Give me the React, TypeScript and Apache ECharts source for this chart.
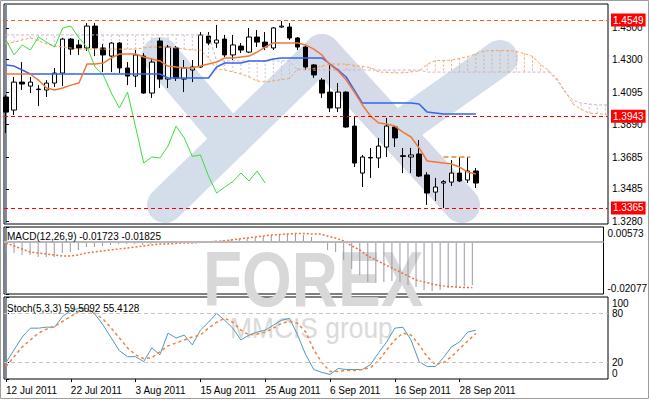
import React, { useEffect, useRef } from 'react';
import * as echarts from 'echarts';

// ---- data ----
const dateLabels = ['12 Jul 2011', '22 Jul 2011', '3 Aug 2011', '15 Aug 2011', '25 Aug 2011', '6 Sep 2011', '16 Sep 2011', '28 Sep 2011'];
const dateIndex = [0, 8, 16, 24, 32, 40, 48, 56];

const opens = [1.4064, 1.3982, 1.4158, 1.4133, 1.4114, 1.4108, 1.4152, 1.4215, 1.4429, 1.4392, 1.4373, 1.4511, 1.4373, 1.4322, 1.4404, 1.4247, 1.4196, 1.4322, 1.4089, 1.4417, 1.4177, 1.4373, 1.4177, 1.4234, 1.4253, 1.4448, 1.4404, 1.4429, 1.4329, 1.4385, 1.4347, 1.4442, 1.4410, 1.4373, 1.4505, 1.4505, 1.4436, 1.4379, 1.4266, 1.4171, 1.4095, 1.3995, 1.4095, 1.3881, 1.3585, 1.3683, 1.3680, 1.3749, 1.3875, 1.3694, 1.3686, 1.3705, 1.3573, 1.3465, 1.3522, 1.3528, 1.3585, 1.3541, 1.3598];
const highs = [1.4076, 1.4190, 1.4284, 1.4190, 1.4139, 1.4171, 1.4247, 1.4436, 1.4436, 1.4423, 1.4530, 1.4530, 1.4398, 1.4410, 1.4410, 1.4284, 1.4360, 1.4341, 1.4310, 1.4436, 1.4392, 1.4385, 1.4297, 1.4297, 1.4473, 1.4473, 1.4518, 1.4455, 1.4455, 1.4404, 1.4499, 1.4486, 1.4473, 1.4505, 1.4543, 1.4530, 1.4442, 1.4385, 1.4272, 1.4184, 1.4266, 1.4152, 1.4100, 1.3938, 1.3699, 1.3743, 1.3806, 1.3932, 1.3881, 1.3743, 1.3743, 1.3793, 1.3591, 1.3554, 1.3541, 1.3667, 1.3686, 1.3686, 1.3617];
const lows = [1.3837, 1.3951, 1.4108, 1.4089, 1.4007, 1.4064, 1.4127, 1.4133, 1.4329, 1.4329, 1.4354, 1.4322, 1.4221, 1.4221, 1.4215, 1.4139, 1.4127, 1.4085, 1.4058, 1.4121, 1.4121, 1.4165, 1.4095, 1.4158, 1.4247, 1.4392, 1.4373, 1.4316, 1.4297, 1.4341, 1.4341, 1.4379, 1.4360, 1.4360, 1.4499, 1.4423, 1.4360, 1.4234, 1.4184, 1.4058, 1.3969, 1.3969, 1.3869, 1.3623, 1.3497, 1.3554, 1.3617, 1.3686, 1.3749, 1.3585, 1.3585, 1.3560, 1.3384, 1.3409, 1.3365, 1.3503, 1.3528, 1.3522, 1.3491];
const closes = [1.3969, 1.4158, 1.4146, 1.4158, 1.4111, 1.4152, 1.4215, 1.4429, 1.4366, 1.4373, 1.4511, 1.4373, 1.4329, 1.4404, 1.4247, 1.4196, 1.4329, 1.4089, 1.4284, 1.4177, 1.4379, 1.4184, 1.4247, 1.4253, 1.4455, 1.4404, 1.4423, 1.4329, 1.4392, 1.4360, 1.4442, 1.4410, 1.4379, 1.4499, 1.4511, 1.4436, 1.4379, 1.4253, 1.4203, 1.4089, 1.3995, 1.4095, 1.3875, 1.3648, 1.3686, 1.3680, 1.3755, 1.3881, 1.3806, 1.3690, 1.3699, 1.3566, 1.3459, 1.3497, 1.3531, 1.3585, 1.3535, 1.3598, 1.3522];

const tenkan = [1.4209, 1.4209, 1.4209, 1.4209, 1.4171, 1.4121, 1.4108, 1.4121, 1.4139, 1.4152, 1.4272, 1.4272, 1.4278, 1.4310, 1.4335, 1.4335, 1.4335, 1.4316, 1.4303, 1.4291, 1.4259, 1.4253, 1.4247, 1.4247, 1.4259, 1.4272, 1.4284, 1.4310, 1.4310, 1.4316, 1.4322, 1.4347, 1.4379, 1.4404, 1.4404, 1.4404, 1.4404, 1.4392, 1.4366, 1.4329, 1.4266, 1.4228, 1.4171, 1.4095, 1.4014, 1.3944, 1.3900, 1.3894, 1.3881, 1.3843, 1.3812, 1.3743, 1.3661, 1.3655, 1.3648, 1.3642, 1.3623, 1.3591, 1.3579];
const kijun = [1.4266, 1.4259, 1.4234, 1.4209, 1.4209, 1.4209, 1.4209, 1.4209, 1.4209, 1.4209, 1.4209, 1.4209, 1.4209, 1.4209, 1.4209, 1.4209, 1.4209, 1.4209, 1.4209, 1.4209, 1.4184, 1.4184, 1.4184, 1.4184, 1.4184, 1.4184, 1.4253, 1.4278, 1.4278, 1.4278, 1.4291, 1.4291, 1.4291, 1.4303, 1.4310, 1.4310, 1.4310, 1.4310, 1.4310, 1.4310, 1.4272, 1.4234, 1.4190, 1.4108, 1.4026, 1.4026, 1.4026, 1.4026, 1.4026, 1.4026, 1.4026, 1.4020, 1.3969, 1.3963, 1.3957, 1.3957, 1.3957, 1.3957, 1.3957];
const chikou = [1.4423, 1.4329, 1.4392, 1.4360, 1.4442, 1.4410, 1.4379, 1.4499, 1.4511, 1.4436, 1.4379, 1.4253, 1.4203, 1.4089, 1.3995, 1.4095, 1.3875, 1.3648, 1.3686, 1.3680, 1.3755, 1.3881, 1.3806, 1.3690, 1.3699, 1.3566, 1.3459, 1.3497, 1.3531, 1.3585, 1.3535, 1.3598, 1.3522];
const senkouA = [1.4398, 1.4410, 1.4423, 1.4436, 1.4417, 1.4398, 1.4385, 1.4379, 1.4373, 1.4366, 1.4366, 1.4366, 1.4366, 1.4366, 1.4366, 1.4366, 1.4366, 1.4373, 1.4379, 1.4379, 1.4379, 1.4373, 1.4366, 1.4360, 1.4360, 1.4310,
  1.4238, 1.4234, 1.4222, 1.4209, 1.4190, 1.4165, 1.4159, 1.4165, 1.4174, 1.4181, 1.4241, 1.4241, 1.4244, 1.4260, 1.4272, 1.4272, 1.4272, 1.4263, 1.4256, 1.4250, 1.4222, 1.4219, 1.4216, 1.4216, 1.4222, 1.4228, 1.4269, 1.4294, 1.4294, 1.4297, 1.4307, 1.4319, 1.4335, 1.4354, 1.4357, 1.4357, 1.4357, 1.4351, 1.4338, 1.4320, 1.4269, 1.4231, 1.4181, 1.4102, 1.4020, 1.3985, 1.3963, 1.3960, 1.3954, 1.3935, 1.3919];
const senkouB = [1.4455, 1.4455, 1.4455, 1.4455, 1.4455, 1.4455, 1.4455, 1.4455, 1.4455, 1.4455, 1.4455, 1.4455, 1.4455, 1.4455, 1.4455, 1.4455, 1.4455, 1.4455, 1.4455, 1.4455, 1.4455, 1.4455, 1.4455, 1.4455, 1.4455, 1.4455,
  1.4291, 1.4291, 1.4291, 1.4291, 1.4291, 1.4291, 1.4291, 1.4291, 1.4291, 1.4291,
  1.4234, 1.4234, 1.4234, 1.4234, 1.4234, 1.4234, 1.4234, 1.4234, 1.4234, 1.4234, 1.4234, 1.4234, 1.4234, 1.4234, 1.4234, 1.4234,
  1.4221, 1.4221, 1.4221, 1.4221, 1.4221, 1.4221, 1.4221, 1.4221, 1.4221, 1.4221, 1.4221, 1.4221, 1.4221, 1.4221, 1.4221, 1.4221,
  1.4171, 1.4095, 1.4045, 1.4026, 1.4020, 1.4014, 1.4014, 1.4014, 1.4014];

const macdMain = [-0.00455, -0.00455, -0.00535, -0.00535, -0.00614, -0.00614, -0.00614, -0.00455, -0.00416, -0.00337, -0.00218, -0.00218, -0.00179, -0.00139, -0.00099, -0.00099, -0.00099, -0.00139, -0.00099, -0.00060, -0.00060, -0.00060, -0.00040, -0.00020, -0.00020, 0.00019, 0.00039, 0.00059, 0.00098, 0.00098, 0.00138, 0.00177, 0.00217, 0.00257, 0.00296, 0.00296, 0.00296, 0.00257, 0.00177, -0.00060, -0.00337, -0.00416, -0.00732, -0.01088, -0.01326, -0.01603, -0.01642, -0.01603, -0.01563, -0.01603, -0.01721, -0.01800, -0.01919, -0.01959, -0.01919, -0.01840, -0.01800, -0.01761, -0.01723];
const macdSignal = [-0.00060, -0.00179, -0.00297, -0.00416, -0.00455, -0.00495, -0.00535, -0.00574, -0.00574, -0.00535, -0.00455, -0.00416, -0.00376, -0.00337, -0.00297, -0.00258, -0.00218, -0.00179, -0.00139, -0.00099, -0.00099, -0.00080, -0.00060, -0.00060, -0.00040, -0.00020, 0.00000, 0.00019, 0.00059, 0.00098, 0.00138, 0.00177, 0.00217, 0.00257, 0.00276, 0.00296, 0.00316, 0.00316, 0.00296, 0.00296, 0.00217, 0.00138, 0.00019, -0.00179, -0.00337, -0.00574, -0.00732, -0.00891, -0.01049, -0.01207, -0.01365, -0.01523, -0.01603, -0.01682, -0.01741, -0.01781, -0.01800, -0.01820, -0.01825];

const stochK = [20.0, 35.6, 51.2, 62.0, 62.0, 63.2, 63.2, 76.4, 83.6, 86.0, 86.0, 78.8, 65.6, 50.0, 34.4, 27.2, 27.2, 21.2, 38.0, 29.6, 56.0, 50.0, 53.6, 41.6, 59.6, 69.2, 80.0, 71.6, 62.0, 47.6, 53.6, 57.2, 59.6, 65.6, 71.6, 74.0, 53.6, 29.6, 11.6, 8.0, 5.6, 12.8, 11.6, 11.6, 11.6, 17.6, 32.0, 45.2, 62.0, 63.2, 47.6, 21.2, 15.2, 15.2, 26.0, 39.2, 45.2, 57.2, 59.5092];
const stochD = [15.2, 27.2, 39.2, 47.6, 56.0, 60.8, 64.4, 70.4, 76.4, 82.4, 83.6, 80.0, 72.8, 62.0, 50.0, 38.0, 29.6, 24.8, 26.0, 33.2, 40.4, 44.0, 47.6, 51.2, 53.6, 62.0, 69.2, 74.0, 69.2, 59.6, 53.6, 54.8, 57.2, 62.0, 68.0, 70.4, 68.0, 57.2, 35.6, 20.0, 9.2, 9.2, 10.4, 10.4, 11.6, 14.0, 22.4, 35.6, 47.6, 56.0, 53.6, 41.6, 27.2, 17.6, 20.0, 27.2, 36.8, 46.4, 55.4128];

const priceTicks = [1.45, 1.43, 1.4095, 1.389, 1.3685, 1.3485, 1.328];
const levelLines = [1.4549, 1.3943, 1.3365];
const resistance = 1.3685;
const resistanceFrom = 54;
const resistanceTo = 57.3;
const macdTicks = [0.00573, 0, -0.02077];
const stochTicks = [100, 80, 20, 0];
const stochLevels = [80, 20];
const macdTitle = 'MACD(12,26,9) -0.01723 -0.01825';
const stochTitle = 'Stoch(5,3,3) 59.5092 55.4128';
const watermarkTitle = 'FOREX';
const watermarkSub = 'MMCIS group';

// ---- styling ----
const FONT = "'Liberation Sans', Arial, sans-serif";
const FS = 10;
const X_MIN = -0.25;
const X_MAX = 74.32;
const SANDY = '#f4a460';
const THISTLE = '#cdb5cd';

export default function App() {
  const ref = useRef<HTMLDivElement>(null);

  useEffect(() => {
    if (!ref.current) return;
    const chart = echarts.init(ref.current, null, { renderer: 'svg' });

    const idx = (arr: number[]) => arr.map((v, i) => [i, v]);
    const candles = opens.map((o, i) => [i, o, closes[i], lows[i], highs[i]]);
    const kumo = senkouA.map((a, i) => [i, a, senkouB[i]]).filter((d) => d[0] <= 74);

    const bands = [
      [160, 55, 232, 140],
      [165, 205, 322, 52],
      [322, 52, 462, 205],
      [395, 132, 500, 58],
    ];
    const bw = 36;
    const bandEls = bands.map(([x1, y1, x2, y2], k) => {
      const len = Math.hypot(x2 - x1, y2 - y1) + bw;
      return {
        type: 'rect',
        x: (x1 + x2) / 2,
        y: (y1 + y2) / 2,
        rotation: -Math.atan2(y2 - y1, x2 - x1),
        shape: { x: -len / 2, y: -bw / 2, width: len, height: bw, r: bw / 2 },
        style: { fill: k === 2 ? '#d6dae8' : '#d4deeb' },
        silent: true,
        z: 0,
      };
    });

    const axisText = { fontSize: FS, color: '#000', fontFamily: FONT };
    const hiddenX = (gridIndex: number) => ({
      type: 'value', gridIndex, min: X_MIN, max: X_MAX, show: false, splitLine: { show: false },
    });

    const option: any = {
      animation: false,
      backgroundColor: '#ffffff',
      title: [
        { text: macdTitle, left: 7, top: 231, padding: 0, textStyle: { ...axisText, fontWeight: 'normal' } },
        { text: stochTitle, left: 7, top: 303, padding: 0, textStyle: { ...axisText, fontWeight: 'normal' } },
      ],
      graphic: [
        ...bandEls,
        {
          type: 'text', x: 203, y: 279, scaleX: 0.82, silent: true, z: 0,
          style: { text: watermarkTitle, fontSize: 78, fontWeight: 'bold', fontFamily: 'Liberation Sans', fill: '#d8d8d8', verticalAlign: 'middle' },
        },
        {
          type: 'text', x: 230, y: 328, scaleX: 0.91, silent: true, z: 0,
          style: { text: watermarkSub, fontSize: 29, fontFamily: 'Liberation Sans', fill: '#dadada', verticalAlign: 'middle' },
        },
        {
          type: 'rect', silent: true, z: 10,
          shape: { x: 0.5, y: 0.5, width: 648, height: 398 },
          style: { fill: 'none', stroke: '#9c9c9c', lineWidth: 1 },
        },
      ],
      grid: [
        { left: 4, top: 4, width: 604, height: 220, show: true, borderColor: '#000', borderWidth: 1, backgroundColor: 'transparent' },
        { left: 4, top: 227, width: 604, height: 67, show: true, borderColor: '#000', borderWidth: 1, backgroundColor: 'transparent' },
        { left: 4, top: 297, width: 604, height: 82, show: true, borderColor: '#000', borderWidth: 1, backgroundColor: 'transparent' },
      ],
      xAxis: [
        hiddenX(0),
        hiddenX(1),
        {
          type: 'value', gridIndex: 2, min: X_MIN, max: X_MAX,
          axisLine: { show: false },
          splitLine: { show: false },
          axisTick: { show: true, customValues: dateIndex, length: 3, lineStyle: { color: '#000' } },
          axisLabel: {
            customValues: dateIndex, align: 'left', margin: 6, ...axisText,
            showMinLabel: true, showMaxLabel: true,
            formatter: (v: number) => dateLabels[dateIndex.indexOf(Math.round(v))] ?? '',
          },
        },
      ],
      yAxis: [
        {
          type: 'value', gridIndex: 0, position: 'right', min: 1.3264, max: 1.465,
          axisLine: { show: true, lineStyle: { color: '#7b8a9c', width: 2 } },
          axisTick: { show: true, customValues: priceTicks, length: 3, lineStyle: { color: '#000' } },
          axisLabel: { customValues: priceTicks, margin: 4, ...axisText, showMinLabel: true, showMaxLabel: true, formatter: (v: number) => v.toFixed(4) },
          splitLine: { show: false },
        },
        {
          type: 'value', gridIndex: 1, position: 'right', min: macdTicks[2], max: macdTicks[0],
          axisLine: { show: true, lineStyle: { color: '#7b8a9c', width: 2 } },
          axisTick: { show: true, customValues: macdTicks, length: 3, lineStyle: { color: '#000' } },
          axisLabel: {
            customValues: macdTicks, margin: 4, ...axisText, showMinLabel: true, showMaxLabel: true,
            formatter: (v: number) => {
              if (Math.abs(v - macdTicks[0]) < 1e-9) return '{lo|' + macdTicks[0].toFixed(5) + '}';
              if (Math.abs(v - macdTicks[2]) < 1e-9) return '{hi|' + macdTicks[2].toFixed(5) + '}';
              return v.toFixed(2);
            },
            rich: { lo: { ...axisText, padding: [12, 0, 0, 0] }, hi: { ...axisText, padding: [0, 0, 12, 0] } },
          },
          splitLine: { show: false },
        },
        {
          type: 'value', gridIndex: 2, position: 'right', min: 0, max: 100,
          axisLine: { show: true, lineStyle: { color: '#7b8a9c', width: 2 } },
          axisTick: { show: true, customValues: stochTicks, length: 3, lineStyle: { color: '#000' } },
          axisLabel: {
            customValues: stochTicks, margin: 4, ...axisText, showMinLabel: true, showMaxLabel: true,
            formatter: (v: number) => {
              if (v === 100) return '{lo|100}';
              if (v === 0) return '{hi|0}';
              return String(v);
            },
            rich: { lo: { ...axisText, padding: [12, 0, 0, 0] }, hi: { ...axisText, padding: [0, 0, 12, 0] } },
          },
          splitLine: { show: false },
        },
      ],
      series: [
        {
          type: 'custom', name: 'Kumo', xAxisIndex: 0, yAxisIndex: 0, silent: true,
          encode: { x: 0, y: [1, 2] },
          data: kumo,
          renderItem: (params: any, api: any) => {
            const x = api.value(0);
            const a = api.value(1);
            const b = api.value(2);
            const pa = api.coord([x, a]);
            const pb = api.coord([x, b]);
            return {
              type: 'line',
              shape: { x1: pa[0], y1: pa[1], x2: pb[0], y2: pb[1] },
              style: { stroke: a > b ? SANDY : THISTLE, lineWidth: 1, lineDash: [2, 2], opacity: 0.9 },
            };
          },
        },
        {
          type: 'line', name: 'Senkou Span A', xAxisIndex: 0, yAxisIndex: 0, data: idx(senkouA),
          showSymbol: false, silent: true, lineStyle: { color: SANDY, width: 1, type: [3, 2] },
        },
        {
          type: 'line', name: 'Senkou Span B', xAxisIndex: 0, yAxisIndex: 0, data: idx(senkouB),
          showSymbol: false, silent: true, lineStyle: { color: THISTLE, width: 1, type: [3, 2] },
        },
        {
          type: 'candlestick', name: 'EURUSD', xAxisIndex: 0, yAxisIndex: 0, data: candles, barWidth: 5,
          silent: true,
          itemStyle: { color: '#ffffff', color0: '#000000', borderColor: '#000000', borderColor0: '#000000', borderWidth: 1 },
        },
        {
          type: 'line', name: 'Chikou Span', xAxisIndex: 0, yAxisIndex: 0, data: idx(chikou),
          showSymbol: false, silent: true, lineStyle: { color: '#3cdc3c', width: 1 },
        },
        {
          type: 'line', name: 'Kijun-sen', xAxisIndex: 0, yAxisIndex: 0, data: idx(kijun),
          showSymbol: false, silent: true, lineStyle: { color: '#3565e8', width: 1.5 },
        },
        {
          type: 'line', name: 'Tenkan-sen', xAxisIndex: 0, yAxisIndex: 0, data: idx(tenkan),
          showSymbol: false, silent: true, lineStyle: { color: '#f07838', width: 1.5 },
          markLine: {
            silent: true, symbol: ['none', 'none'], precision: 4,
            lineStyle: { type: [4, 3], width: 1, color: '#ff0000' },
            label: {
              show: true, position: 'end', distance: 3, backgroundColor: '#ff0000', color: '#ffffff',
              padding: [2, 2, 1, 2], fontSize: FS, fontFamily: FONT,
            },
            data: [
              ...levelLines.map((v, k) => ({
                yAxis: v,
                lineStyle: { color: k === 0 ? '#ff5a1e' : '#ff0000' },
                label: { formatter: v.toFixed(4) },
              })),
              [
                { coord: [resistanceFrom, resistance], lineStyle: { color: SANDY, width: 2, type: [5, 3] }, label: { show: false } },
                { coord: [resistanceTo, resistance] },
              ],
            ],
          },
        },
        {
          type: 'custom', name: 'MACD', xAxisIndex: 1, yAxisIndex: 1, silent: true,
          encode: { x: 0, y: 1 },
          data: idx(macdMain),
          renderItem: (params: any, api: any) => {
            const x = api.value(0);
            const p0 = api.coord([x, 0]);
            const p1 = api.coord([x, api.value(1)]);
            return {
              type: 'line',
              shape: { x1: p0[0], y1: p0[1], x2: p1[0], y2: p1[1] },
              style: { stroke: '#9a96aa', lineWidth: 1 },
            };
          },
        },
        {
          type: 'line', name: 'Signal', xAxisIndex: 1, yAxisIndex: 1, data: idx(macdSignal),
          showSymbol: false, silent: true, lineStyle: { color: '#f0703a', width: 1.5, type: [2, 2] },
          markLine: {
            silent: true, symbol: ['none', 'none'], label: { show: false }, precision: 5,
            lineStyle: { color: '#b8b8b8', width: 2, type: 'solid' },
            data: [{ yAxis: 0 }],
          },
        },
        {
          type: 'line', name: '%K', xAxisIndex: 2, yAxisIndex: 2, data: idx(stochK),
          showSymbol: false, silent: true, lineStyle: { color: '#4a9cba', width: 1 },
        },
        {
          type: 'line', name: '%D', xAxisIndex: 2, yAxisIndex: 2, data: idx(stochD),
          showSymbol: false, silent: true, lineStyle: { color: '#f08040', width: 1.5, type: [3, 3] },
          markLine: {
            silent: true, symbol: ['none', 'none'], label: { show: false },
            lineStyle: { color: '#c4c4c4', width: 1, type: [4, 3] },
            data: stochLevels.map((v) => ({ yAxis: v })),
          },
        },
      ],
    };

    chart.setOption(option);
    return () => chart.dispose();
  }, []);

  return (
    <div
      ref={ref}
      style={{ position: 'fixed', left: 0, top: 0, width: 650, height: 400, background: '#fff' }}
    />
  );
}
